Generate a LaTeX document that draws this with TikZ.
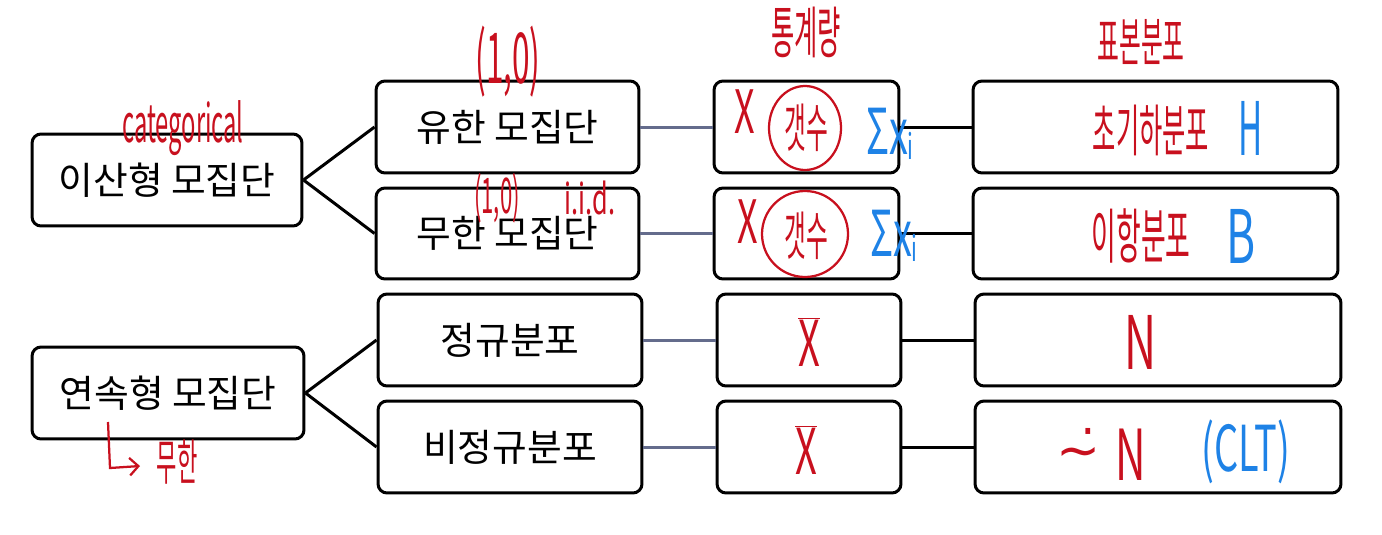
\documentclass[tikz,border=0pt]{standalone}
\usepackage{fontspec}
\usetikzlibrary{arrows.meta}
\setmainfont{Noto Sans CJK KR}
\newfontfamily\hand{Noto Sans CJK KR}[FakeStretch=0.6]
\newfontfamily\handc{Noto Sans CJK KR}[FakeStretch=0.45]
\newfontfamily\dejavu{DejaVu Sans}
\definecolor{inkred}{RGB}{200,16,30}
\definecolor{inkblue}{RGB}{30,130,230}
\definecolor{linkgrey}{RGB}{100,108,140}
\begin{document}
\begin{tikzpicture}[x=0.02cm,y=-0.02cm,
  box/.style={draw=black,line width=0.06cm,rounded corners=0.18cm,minimum height=1.84cm,inner sep=0pt,font=\fontsize{21.5}{24}\selectfont},
  blk/.style={draw=black,line width=0.06cm},
  gry/.style={draw=linkgrey,line width=0.06cm},
  red/.style={text=inkred,font=\handc\fontsize{32}{34}\selectfont,inner sep=0pt},
  blu/.style={text=inkblue,font=\hand\fontsize{36}{38}\selectfont,inner sep=0pt}]
\useasboundingbox (0,0) rectangle (1382,534);
% column 1
\node[box,minimum width=5.4cm] (A) at (167,180) {이산형 모집단};
\node[box,minimum width=5.44cm] (B) at (168,393) {연속형 모집단};
% column 2
\node[box,minimum width=5.26cm] (F1) at (507.5,127) {유한 모집단};
\node[box,minimum width=5.26cm,minimum height=1.82cm] (F2) at (507.5,233.5) {무한 모집단};
\node[box,minimum width=5.28cm] (F3) at (510,340) {정규분포};
\node[box,minimum width=5.28cm] (F4) at (510,447) {비정규분포};
% column 3
\node[box,minimum width=3.7cm] (S1) at (806.5,127) {};
\node[box,minimum width=3.7cm,minimum height=1.82cm] (S2) at (806.5,233.5) {};
\node[box,minimum width=3.68cm] (S3) at (809,340) {};
\node[box,minimum width=3.68cm] (S4) at (809,447) {};
% column 4
\node[box,minimum width=7.3cm] (D1) at (1155.5,127) {};
\node[box,minimum width=7.3cm,minimum height=1.82cm] (D2) at (1155.5,233.5) {};
\node[box,minimum width=7.32cm] (D3) at (1158,340) {};
\node[box,minimum width=7.32cm] (D4) at (1158,447) {};
% connectors
\draw[blk] (A.east) -- (F1.west);
\draw[blk] (A.east) -- (F2.west);
\draw[blk] (B.east) -- (F3.west);
\draw[blk] (B.east) -- (F4.west);
\draw[gry] (F1.east) -- (S1.west);
\draw[gry] (F2.east) -- (S2.west);
\draw[gry] (F3.east) -- (S3.west);
\draw[gry] (F4.east) -- (S4.west);
\draw[blk] (S1.east) -- (D1.west);
\draw[blk] (S2.east) -- (D2.west);
\draw[blk] (S3.east) -- (D3.west);
\draw[blk] (S4.east) -- (D4.west);
% headers
\node[red] (h1) at (806,32) {통계량};
\node[red,font=\handc\fontsize{30}{32}\selectfont] (h2) at (1141,42) {표본분포};
% annotations
\node[red,font=\handc\fontsize{30}{32}\selectfont] (cat) at (183,128) {categorical};
\node[red,font=\handc\fontsize{40}{42}\selectfont] (t10) at (508,62) {(1,0)};
\node[red,font=\handc\fontsize{28}{30}\selectfont] (t10b) at (497,198) {(1,0)};
\node[red,font=\hand\fontsize{24}{26}\selectfont] (iid) at (590,198) {i.i.d.};
% stat row 1
\node[red,font=\hand\fontsize{34}{36}\selectfont] (x1) at (745,112) {X};
\node[red,font=\handc\fontsize{30}{32}\selectfont] (c1) at (806,128) {갯수};
\draw[inkred,line width=0.045cm] (805,128) ellipse [x radius=36,y radius=42];
\node[blu] (s1) at (890,134) {Σx\raisebox{-3pt}{\fontsize{20}{22}\selectfont i}};
% stat row 2
\node[red,font=\hand\fontsize{34}{36}\selectfont] (x2) at (748,222) {X};
\node[red,font=\handc\fontsize{30}{32}\selectfont] (c2) at (806,236) {갯수};
\draw[inkred,line width=0.045cm] (805,234) circle [radius=43];
\node[blu] (s2) at (894,236) {Σx\raisebox{-3pt}{\fontsize{20}{22}\selectfont i}};
% stat rows 3,4
\node[red,font=\hand\fontsize{36}{38}\selectfont] (xb3) at (809,342) {$\overline{\mbox{X}}$};
\node[red,font=\hand\fontsize{36}{38}\selectfont] (xb4) at (806,450) {$\overline{\mbox{X}}$};
% distributions
\node[red] (d1) at (1151,130) {초기하분포};
\node[blu,font=\handc\fontsize{42}{44}\selectfont] (d1b) at (1251,128) {H};
\node[red,font=\handc\fontsize{34}{36}\selectfont] (d2) at (1141,236) {이항분포};
\node[blu,font=\hand\fontsize{42}{44}\selectfont] (d2b) at (1241,236) {B};
\node[red,font=\hand\fontsize{42}{44}\selectfont] (d3) at (1140,342) {N};
\node[red,font=\dejavu\fontsize{30}{32}\selectfont] (d4a) at (1079,448) {∼̇};
\node[red,font=\hand\fontsize{40}{42}\selectfont] (d4) at (1131,455) {N};
\node[blu,font=\hand\fontsize{36}{38}\selectfont] (clt) at (1246,452) {(CLT)};
% continuous: infinite
\draw[inkred,line width=0.045cm,-{Straight Barb[length=5pt]}] (108,422) -- (110,468) -- (140,466);
\node[red,font=\handc\fontsize{28}{30}\selectfont] (inf) at (177,462) {무한};
\end{tikzpicture}
\end{document}
